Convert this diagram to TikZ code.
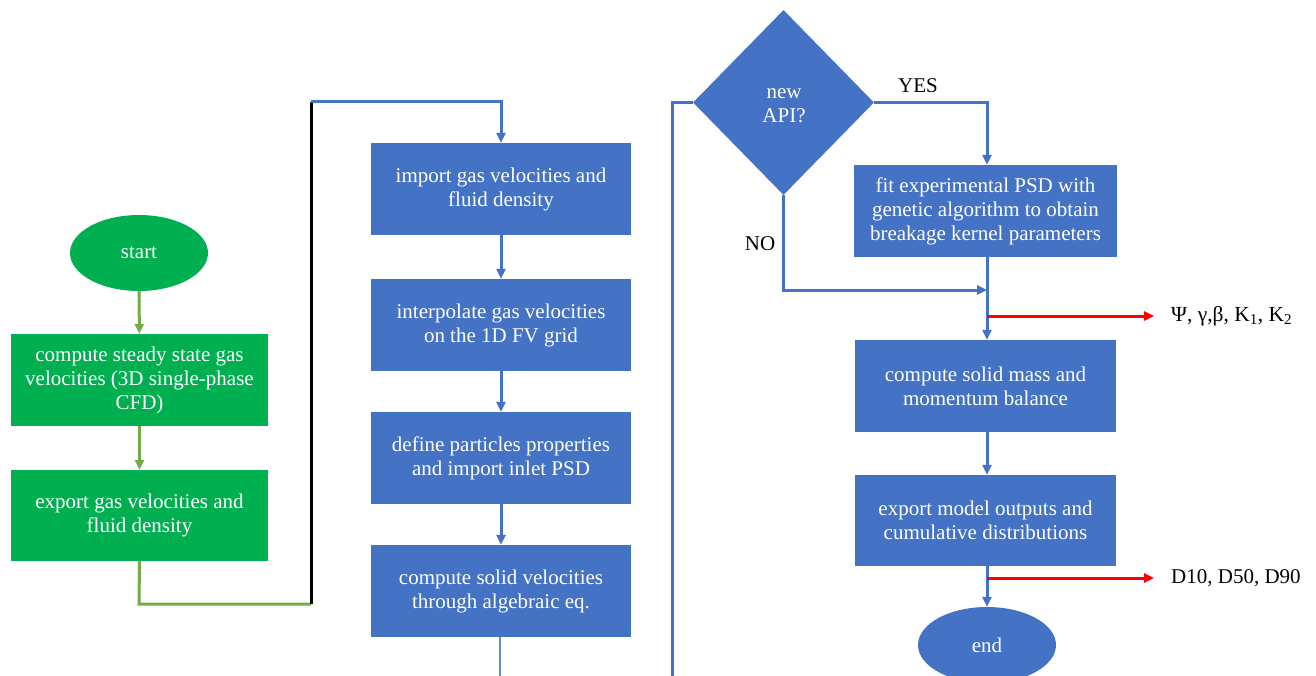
\documentclass[tikz,border=0pt]{standalone}
\usepackage{fontspec}
\setmainfont{Liberation Serif}
\usetikzlibrary{shapes.geometric,arrows.meta}
\definecolor{bbox}{HTML}{4472C4}
\definecolor{gbox}{HTML}{00B050}
\definecolor{gline}{HTML}{70AD47}
\definecolor{rline}{HTML}{FF0000}
\tikzset{
  txt/.style={font=\fontsize{21}{24}\selectfont},
  bluebox/.style={txt,fill=bbox,draw=none,text=white,align=center,minimum width=260pt,minimum height=92pt,inner sep=0pt},
  greenbox/.style={txt,fill=gbox,draw=none,text=white,align=center,minimum width=257pt,minimum height=92pt,inner sep=0pt},
  oval/.style={txt,ellipse,draw=none,text=white,minimum width=138pt,minimum height=76pt,inner sep=0pt},
  decision/.style={txt,diamond,fill=bbox,draw=none,text=white,align=center,minimum width=181pt,minimum height=185pt,inner sep=0pt},
  lbl/.style={txt,text=black,inner sep=0pt},
  bconn/.style={draw=bbox,line width=3pt},
  gconn/.style={draw=gline,line width=3pt},
  rconn/.style={draw=rline,line width=3pt},
  tip/.style={-{Triangle[length=10pt,width=9pt]}}
}
\begin{document}
\begin{tikzpicture}[x=1pt,y=-1pt]
\useasboundingbox (0,0) rectangle (1316,676);
% column 1
\node[oval,fill=gbox] (start) at (139,253) {start};
\node[greenbox] (g1) at (139.5,380) {compute steady state gas\\velocities (3D single-phase\\CFD)};
\node[greenbox,minimum height=91pt] (g2) at (139.5,515.5) {export gas velocities and\\fluid density};
% column 2
\node[bluebox] (c2a) at (501,189) {import gas velocities and\\fluid density};
\node[bluebox] (c2b) at (501,325) {interpolate gas velocities\\on the 1D FV grid};
\node[bluebox] (c2c) at (501,458) {define particles properties\\and import inlet PSD};
\node[bluebox] (c2d) at (501,591) {compute solid velocities\\through algebraic eq.};
% column 3
\node[decision] (dia) at (783.5,102.5) {};
\node[txt,text=white,align=center,inner sep=0pt] (diatext) at (784,106) {new\\API?};
\node[bluebox,minimum width=263pt] (fit) at (985.5,211) {fit experimental PSD with\\genetic algorithm to obtain\\breakage kernel parameters};
\node[bluebox,minimum width=261pt] (mass) at (985.5,386) {compute solid mass and\\momentum balance};
\node[bluebox,minimum width=261pt,minimum height=91pt] (exp) at (985.5,520.5) {export model outputs and\\cumulative distributions};
\node[oval,fill=bbox] (end) at (987,645) {end};
% labels
\node[lbl] (yes) at (918,86) {YES};
\node[lbl] (no) at (760,244) {NO};
\node[lbl,anchor=west,font=\fontsize{21.5}{24}\selectfont] (params) at (1171,316) {Ψ, γ,β, K\textsubscript{1}, K\textsubscript{2}};
\node[lbl,anchor=west] (dvals) at (1171,578) {D10, D50, D90};
% coordinates
\coordinate (ga) at (139,604);
\coordinate (gb) at (311,604);
\coordinate (gc) at (311,102);
\coordinate (bot1) at (500,676);
\coordinate (bot2) at (672,676);
\coordinate (nojoin) at (987,290);
\coordinate (r1) at (987,316);
\coordinate (r1e) at (1154,316);
\coordinate (r2) at (987,578);
\coordinate (r2e) at (1154,578);
% column 1 connectors
\draw[gconn,tip] (start) -- (g1);
\draw[gconn,tip] (g1) -- (g2);
\draw[gconn] (g2.south) -- (ga) -- (gb);
\draw[draw=black,line width=3pt] (gb) -- (gc);
\draw[bconn,tip] (gc) -| (c2a.north);
% column 2 connectors
\draw[bconn,tip] (c2a) -- (c2b);
\draw[bconn,tip] (c2b) -- (c2c);
\draw[bconn,tip] (c2c) -- (c2d);
\draw[draw=bbox!80,line width=2.5pt] (c2d.south -| bot1) -- (bot1);
\draw[bconn] (bot2) |- (dia.west);
% column 3 connectors
\draw[bconn,tip] (dia.east) -| (fit.north -| nojoin);
\draw[bconn,tip] (dia.south) |- (nojoin);
\draw[bconn,tip] (fit.south -| nojoin) -- (mass.north -| nojoin);
\draw[bconn,tip] (mass.south -| nojoin) -- (exp.north -| nojoin);
\draw[bconn,tip] (exp.south -| nojoin) -- (end.north);
\draw[rconn,tip] (r1) -- (r1e);
\draw[rconn,tip] (r2) -- (r2e);
\end{tikzpicture}
\end{document}
